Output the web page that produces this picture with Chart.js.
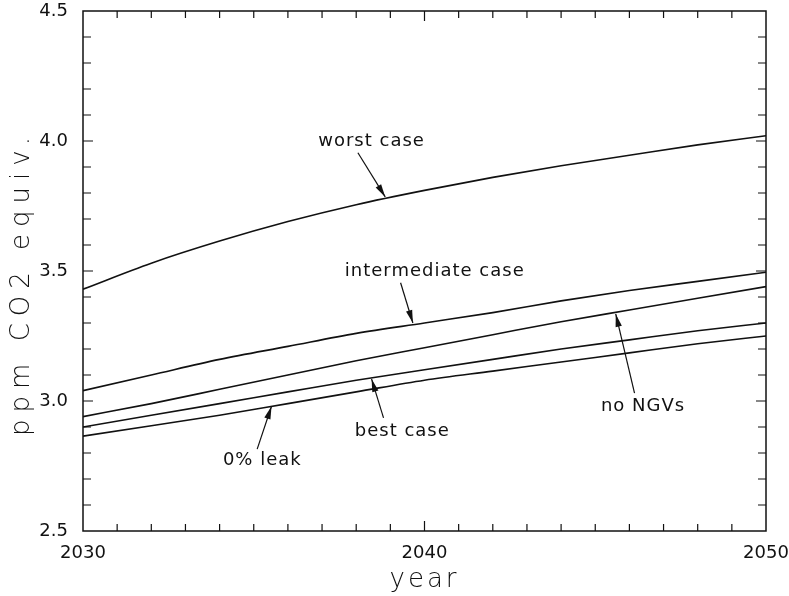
<!DOCTYPE html>
<html>
<head>
<meta charset="utf-8">
<script src="https://cdn.jsdelivr.net/npm/chart.js@4/dist/chart.umd.min.js"></script>
<style>
  html, body { margin: 0; padding: 0; background: #fff; }
  canvas { display: block; }
</style>
</head>
<body>
<canvas id="co2Chart" width="789" height="596"></canvas>
<script>
// values, every 2 years
const years = [2030, 2032, 2034, 2036, 2038, 2040, 2042, 2044, 2046, 2048, 2050];
const worstCase        = [3.43, 3.53, 3.615, 3.69, 3.755, 3.81, 3.86, 3.905, 3.945, 3.985, 4.02];
const intermediateCase = [3.04, 3.10, 3.16, 3.21, 3.26, 3.30, 3.34, 3.385, 3.425, 3.46, 3.495];
const noNGVs           = [2.94, 2.99, 3.045, 3.10, 3.155, 3.205, 3.255, 3.305, 3.35, 3.395, 3.44];
const bestCase         = [2.90, 2.945, 2.99, 3.035, 3.08, 3.12, 3.16, 3.20, 3.235, 3.27, 3.30];
const zeroLeak         = [2.865, 2.905, 2.945, 2.99, 3.035, 3.08, 3.115, 3.15, 3.185, 3.22, 3.25];
const seriesNames = ['worst case', 'intermediate case', 'no NGVs', 'best case', '0% leak'];
const yTickValues = [2.5, 3.0, 3.5, 4.0, 4.5];
const xTickValues = [2030, 2040, 2050];

const ink = '#111';
const FONT = '"DejaVu Sans", sans-serif';

// callouts: text position and arrow (tail -> head), in data units
const callouts = [
  { text: seriesNames[0], x: 2038.45, y: 4.0,   from: [2038.05, 3.955], to: [2038.85, 3.785] },
  { text: seriesNames[1], x: 2040.3,  y: 3.5,   from: [2039.3, 3.455],  to: [2039.66, 3.30] },
  { text: seriesNames[2], x: 2046.4,  y: 2.98,  from: [2046.15, 3.03],  to: [2045.6, 3.335] },
  { text: seriesNames[3], x: 2039.35, y: 2.883, from: [2038.8, 2.935],  to: [2038.45, 3.085] },
  { text: seriesNames[4], x: 2035.25, y: 2.772, from: [2035.1, 2.815],  to: [2035.52, 2.98] }
];

function pts(vals) {
  return years.map((yr, i) => ({ x: yr, y: vals[i] }));
}

function lineSet(label, vals) {
  return {
    label: label,
    data: pts(vals),
    borderColor: ink,
    borderWidth: 1.6,
    pointRadius: 0,
    fill: false,
    cubicInterpolationMode: 'monotone'
  };
}

// keep the plot box fixed, no extra room for overhanging tick labels
function noOverhang(scale) {
  scale.paddingTop = 0;
  scale.paddingBottom = 0;
  scale.paddingLeft = 0;
  scale.paddingRight = 0;
}

const framePlugin = {
  id: 'frame',
  afterDraw(chart) {
    const ctx = chart.ctx;
    const a = chart.chartArea;
    const xs = chart.scales.x, ys = chart.scales.y;
    ctx.save();
    ctx.strokeStyle = ink;
    ctx.lineWidth = 1.5;
    ctx.strokeRect(a.left, a.top, a.right - a.left, a.bottom - a.top);

    // inward ticks, every year and every 0.1
    ctx.lineWidth = 1.2;
    ctx.beginPath();
    for (let yr = 2031; yr < 2050; yr++) {
      const px = xs.getPixelForValue(yr);
      const len = yr === 2040 ? 10 : 7;
      ctx.moveTo(px, a.bottom); ctx.lineTo(px, a.bottom - len);
      ctx.moveTo(px, a.top); ctx.lineTo(px, a.top + len);
    }
    for (let k = 26; k < 45; k++) {
      const py = ys.getPixelForValue(k / 10);
      const len = k % 5 === 0 ? 10 : 8;
      ctx.moveTo(a.left, py); ctx.lineTo(a.left + len, py);
      ctx.moveTo(a.right, py); ctx.lineTo(a.right - len, py);
    }
    ctx.stroke();

    // axis titles
    ctx.fillStyle = ink;
    ctx.font = '300 26px ' + FONT;
    ctx.textAlign = 'center';
    ctx.textBaseline = 'middle';
    ctx.letterSpacing = '3px';
    ctx.fillText('year', xs.getPixelForValue(2040), 580);
    ctx.save();
    ctx.translate(22, (a.top + a.bottom) / 2 + 12);
    ctx.rotate(-Math.PI / 2);
    ctx.letterSpacing = '7px';
    ctx.fillText('ppm CO2 equiv.', 0, 0);
    ctx.restore();

    // callout labels and arrows
    ctx.letterSpacing = '1px';
    ctx.font = '18px ' + FONT;
    callouts.forEach(c => {
      ctx.fillText(c.text, xs.getPixelForValue(c.x), ys.getPixelForValue(c.y));
      const x0 = xs.getPixelForValue(c.from[0]), y0 = ys.getPixelForValue(c.from[1]);
      const x1 = xs.getPixelForValue(c.to[0]), y1 = ys.getPixelForValue(c.to[1]);
      const ang = Math.atan2(y1 - y0, x1 - x0);
      ctx.lineWidth = 1.2;
      ctx.beginPath();
      ctx.moveTo(x0, y0); ctx.lineTo(x1, y1);
      ctx.stroke();
      const hl = 13, hw = 3.2;
      ctx.beginPath();
      ctx.moveTo(x1, y1);
      ctx.lineTo(x1 - hl * Math.cos(ang) + hw * Math.sin(ang), y1 - hl * Math.sin(ang) - hw * Math.cos(ang));
      ctx.lineTo(x1 - hl * Math.cos(ang) - hw * Math.sin(ang), y1 - hl * Math.sin(ang) + hw * Math.cos(ang));
      ctx.closePath();
      ctx.fill();
    });
    ctx.restore();
  }
};

new Chart(document.getElementById('co2Chart').getContext('2d'), {
  type: 'line',
  data: {
    datasets: [
      lineSet(seriesNames[0], worstCase),
      lineSet(seriesNames[1], intermediateCase),
      lineSet(seriesNames[2], noNGVs),
      lineSet(seriesNames[3], bestCase),
      lineSet(seriesNames[4], zeroLeak)
    ]
  },
  options: {
    responsive: false,
    animation: false,
    devicePixelRatio: 1,
    layout: { padding: { left: 0, top: 11, right: 23, bottom: 0 } },
    plugins: {
      legend: { display: false },
      tooltip: { enabled: false }
    },
    scales: {
      x: {
        type: 'linear',
        min: 2030,
        max: 2050,
        afterFit(scale) { scale.height = 65; noOverhang(scale); },
        afterBuildTicks(scale) { scale.ticks = xTickValues.map(v => ({ value: v })); },
        grid: { display: false, drawTicks: false },
        border: { display: false },
        ticks: {
          padding: 12,
          color: ink,
          font: { family: FONT, size: 18 },
          callback: v => String(v)
        }
      },
      y: {
        min: 2.5,
        max: 4.5,
        afterFit(scale) { scale.width = 83; noOverhang(scale); },
        afterBuildTicks(scale) { scale.ticks = yTickValues.map(v => ({ value: v })); },
        grid: { display: false, drawTicks: false },
        border: { display: false },
        ticks: {
          padding: 15,
          color: ink,
          font: { family: FONT, size: 18 },
          callback: v => Number(v).toFixed(1)
        }
      }
    }
  },
  plugins: [framePlugin]
});
</script>
</body>
</html>
